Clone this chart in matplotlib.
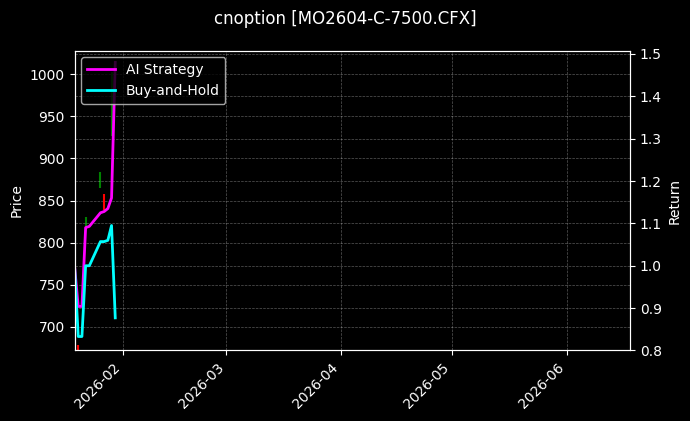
import pandas as pd
import matplotlib
matplotlib.use("Agg")
import matplotlib.pyplot as plt
import matplotlib.dates as mdates

# ---- data ----
dates = pd.to_datetime([
    "2026-01-19", "2026-01-20", "2026-01-21", "2026-01-22", "2026-01-23",
    "2026-01-26", "2026-01-27", "2026-01-28", "2026-01-29", "2026-01-30",
])
ai_strategy = [1.0, 0.904, 0.904, 1.09, 1.093, 1.125, 1.128, 1.135, 1.16, 1.48]
buy_hold = [1.0, 0.833, 0.833, 1.0, 1.0, 1.057, 1.057, 1.06, 1.095, 0.877]

candle_dates = pd.to_datetime([
    "2026-01-19", "2026-01-20", "2026-01-22",
    "2026-01-26", "2026-01-27", "2026-01-29",
])
candle_low = [801, 672, 819, 865, 839, 926]
candle_high = [816, 678, 830, 884, 858, 1002]
candle_up = [True, False, True, True, False, True]

x_range = pd.to_datetime(["2026-01-19", "2026-06-18"])
price_range = (672, 1028)
return_range = (0.80, 1.508)

# ---- plot ----
plt.style.use("dark_background")
fig = plt.figure(figsize=(6.9, 4.21), dpi=100)
ax = fig.add_axes([0.108, 0.1675, 0.805, 0.7125])

colors = ["green" if up else "red" for up in candle_up]
ax.vlines(candle_dates, candle_low, candle_high, colors=colors, linewidth=1.5)
ax.set_ylim(*price_range)
ax.set_ylabel("Price")
ax.grid(True, linestyle="--", linewidth=0.5, alpha=0.35)

ax2 = ax.twinx()
ax2.plot(dates, ai_strategy, color="magenta", linewidth=2, label="AI Strategy")
ax2.plot(dates, buy_hold, color="cyan", linewidth=2, label="Buy-and-Hold")
ax2.set_ylim(*return_range)
ax2.set_ylabel("Return")
ax2.grid(True, linestyle="--", linewidth=0.5, alpha=0.35)
ax2.legend(loc="upper left")

ax.set_xlim(x_range[0], x_range[1])
ax.xaxis.set_major_locator(mdates.MonthLocator())
ax.xaxis.set_major_formatter(mdates.DateFormatter("%Y-%m"))
plt.setp(ax.get_xticklabels(), rotation=45, ha="right")

fig.suptitle("cnoption [MO2604-C-7500.CFX]", fontsize=12, y=0.977)

fig.savefig("out.png", dpi=100)
